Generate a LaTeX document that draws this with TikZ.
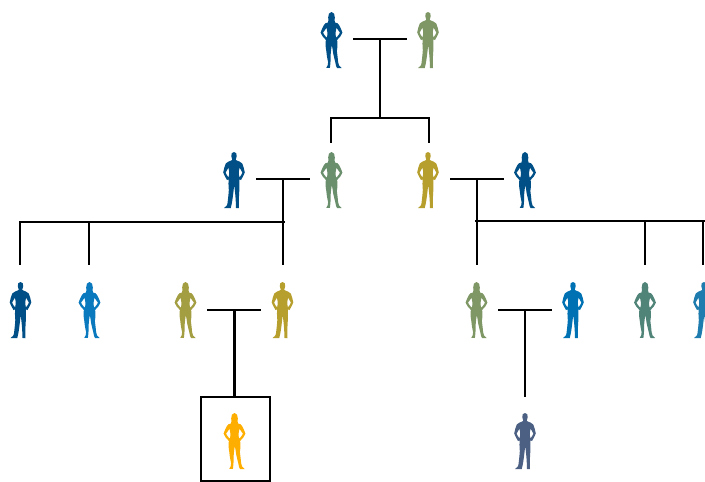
\documentclass[tikz,border=0pt]{standalone}
\definecolor{navy}{HTML}{004F86}
\definecolor{olive}{HTML}{7F9765}
\definecolor{sage}{HTML}{6A8F6C}
\definecolor{gold}{HTML}{B79F2D}
\definecolor{khaki}{HTML}{A49E42}
\definecolor{azure}{HTML}{0B79BD}
\definecolor{blue2}{HTML}{0071B3}
\definecolor{teal2}{HTML}{508478}
\definecolor{cyan2}{HTML}{1F7CAE}
\definecolor{orange2}{HTML}{FDAE00}
\definecolor{slate}{HTML}{4C6084}
\tikzset{
  x=1pt,y=-1pt,
  link/.style={draw=black,line width=2.6pt,line cap=butt},
  focusbox/.style={draw=black,line width=2.6pt,fill=none,outer sep=0pt},
  woman/.pic={
    \fill[pic actions,even odd rule,line join=round]
      (0,0) .. controls (2.4,0) and (3.4,2.5) .. (3.3,5.5)
      .. controls (3.3,7.5) and (2.8,9) .. (3.4,10.4)
      .. controls (5.6,11) and (7.2,11.4) .. (7.8,13.4)
      .. controls (8.6,15.5) and (10.4,18) .. (10.9,20.6)
      .. controls (10.2,23) and (8.2,25.5) .. (5.6,28)
      .. controls (6.2,31) and (6,35) .. (5.4,39)
      .. controls (5.8,43) and (6.4,47) .. (6.6,50)
      .. controls (6.8,52.5) and (7.6,54.4) .. (10.2,56)
      -- (5.6,56) -- (4.6,54)
      .. controls (3.8,50) and (2.4,45) .. (1.6,41)
      .. controls (1.2,38) and (0.8,35) .. (0.3,33)
      .. controls (-0.2,36) and (-0.5,39) .. (-0.8,42)
      .. controls (-0.8,47) and (-1,51) .. (-1.4,54)
      -- (-1.6,56) -- (-5.2,55.8)
      .. controls (-3.8,54) and (-3.4,52.5) .. (-3.4,50)
      .. controls (-4.2,47) and (-4.8,43) .. (-5.2,39)
      .. controls (-6,35) and (-6.2,31) .. (-5.6,28)
      .. controls (-8.2,25.5) and (-10.2,23) .. (-10.9,20.6)
      .. controls (-10.4,18) and (-8.6,15.5) .. (-7.8,13.4)
      .. controls (-7.2,11.4) and (-5.6,11) .. (-3.4,10.4)
      .. controls (-2.8,9) and (-3.3,7.5) .. (-3.3,5.5)
      .. controls (-3.4,2.5) and (-2.4,0) .. (0,0) -- cycle
      (5,15.6) .. controls (5.6,17) and (7.2,19) .. (8.5,20.7) .. controls (7.6,22.5) and (6.2,24.2) .. (4.7,25.8)
      .. controls (4.2,24.5) and (3.9,22) .. (4.2,20) -- cycle
      (-5,15.6) .. controls (-5.6,17) and (-7.2,19) .. (-8.5,20.7) .. controls (-7.6,22.5) and (-6.2,24.2) .. (-4.7,25.8)
      .. controls (-4.2,24.5) and (-3.9,22) .. (-4.2,20) -- cycle;
  },
  man/.pic={
    \fill[pic actions,even odd rule,line join=round]
      (0,0) .. controls (2.1,0) and (2.9,1.8) .. (2.7,4)
      .. controls (2.5,5.5) and (1.7,6.5) .. (1.7,8)
      .. controls (4.6,9.5) and (6.8,9.6) .. (8.2,11.4)
      .. controls (9.2,14) and (10.3,17) .. (10.8,20.5)
      .. controls (10,23) and (8.4,25.5) .. (7,28)
      -- (5.4,27.4)
      .. controls (5.6,32) and (5.4,38) .. (5,44)
      .. controls (4.8,48) and (4.6,52) .. (5,56)
      -- (2,56)
      .. controls (1.9,50) and (1.4,42) .. (0.2,33)
      .. controls (-0.8,42) and (-1.6,50) .. (-3.2,56)
      -- (-10,56) .. controls (-7.8,54.5) and (-7,53.5) .. (-6.6,52)
      .. controls (-6,47) and (-5.4,42) .. (-5.2,38)
      .. controls (-5.6,33) and (-5.6,30) .. (-5.4,27.4)
      -- (-7,28)
      .. controls (-8.4,25.5) and (-10,23) .. (-10.8,20.5)
      .. controls (-10.3,17) and (-9.2,14) .. (-8.2,11.4)
      .. controls (-6.8,9.6) and (-4.6,9.5) .. (-1.7,8)
      .. controls (-1.7,6.5) and (-2.5,5.5) .. (-2.7,4)
      .. controls (-2.9,1.8) and (-2.1,0) .. (0,0) -- cycle
      (5.6,15.6) .. controls (6.2,17) and (7.6,19) .. (8.4,20.6) .. controls (7.6,22.5) and (6.6,24) .. (5.4,25.4)
      .. controls (4.9,24) and (4.7,21) .. (4.9,19) -- cycle
      (-5.6,15.6) .. controls (-6.2,17) and (-7.6,19) .. (-8.4,20.6) .. controls (-7.6,22.5) and (-6.6,24) .. (-5.4,25.4)
      .. controls (-4.9,24) and (-4.7,21) .. (-4.9,19) -- cycle;
  }
}
\begin{document}
\begin{tikzpicture}
\useasboundingbox (0,0) rectangle (705,482);
\clip (0,0) rectangle (705,482);
% people
\pic[fill=navy] at (331.5,12) {woman};
\pic[fill=olive] at (428,12) {man};
\pic[fill=navy] at (234,152) {man};
\pic[fill=sage] at (331.5,152) {woman};
\pic[fill=gold] at (428,152) {man};
\pic[fill=navy] at (525,152) {woman};
\pic[fill=navy] at (20.5,282) {man};
\pic[fill=azure] at (89.5,282) {woman};
\pic[fill=khaki] at (185.5,282) {woman};
\pic[fill=gold] at (282.5,282) {man};
\pic[fill=olive] at (476.5,282) {woman};
\pic[fill=blue2] at (573,282) {man};
\pic[fill=teal2] at (645,282) {woman};
\pic[fill=cyan2] at (704,282) {man};
\pic[fill=orange2] at (234.5,413) {woman};
\pic[fill=slate] at (525,413) {man};
% junctions
\coordinate (a1) at (353,39); \coordinate (a2) at (407,39); \coordinate (a3) at (380,39);
\coordinate (b1) at (330,118); \coordinate (b2) at (430,118); \coordinate (b3) at (380,118);
\coordinate (b4) at (331,143); \coordinate (b5) at (429,143);
\coordinate (b6) at (331,118); \coordinate (b7) at (429,118);
\coordinate (c1) at (256,179); \coordinate (c2) at (310,179); \coordinate (c3) at (283,179);
\coordinate (c4) at (283,265); \coordinate (c5) at (19,222); \coordinate (c6) at (285,222);
\coordinate (c7) at (20,222); \coordinate (c8) at (20,265); \coordinate (c9) at (89,222); \coordinate (c10) at (89,265);
\coordinate (d1) at (450,179); \coordinate (d2) at (504,179); \coordinate (d3) at (477,179);
\coordinate (d4) at (477,265); \coordinate (d5) at (475,221); \coordinate (d6) at (705,221);
\coordinate (d7) at (645,221); \coordinate (d8) at (645,265); \coordinate (d9) at (703,221); \coordinate (d10) at (703,265);
\coordinate (e1) at (207,310); \coordinate (e2) at (261,310); \coordinate (e3) at (234.5,310);
\coordinate (f1) at (498,310); \coordinate (f2) at (552,310); \coordinate (f3) at (525,310);
\coordinate (f4) at (525,397);
\node[focusbox,minimum width=69pt,minimum height=84.5pt,inner sep=0pt,anchor=north west] (focus) at (201,397) {};
% connectors
\draw[link] (a1) -- (a2);
\draw[link] (a3) -- (b3);
\draw[link] (b1) -- (b2);
\draw[link] (b6) -- (b4);
\draw[link] (b7) -- (b5);
\draw[link] (c1) -- (c2);
\draw[link] (c3) -- (c4);
\draw[link] (c5) -- (c6);
\draw[link] (c7) -- (c8);
\draw[link] (c9) -- (c10);
\draw[link] (d1) -- (d2);
\draw[link] (d3) -- (d4);
\draw[link] (d5) -- (d6);
\draw[link] (d7) -- (d8);
\draw[link] (d9) -- (d10);
\draw[link] (e1) -- (e2);
\draw[link] (e3) -- (focus.north -| e3);
\draw[link] (f1) -- (f2);
\draw[link] (f3) -- (f4);
\end{tikzpicture}
\end{document}
